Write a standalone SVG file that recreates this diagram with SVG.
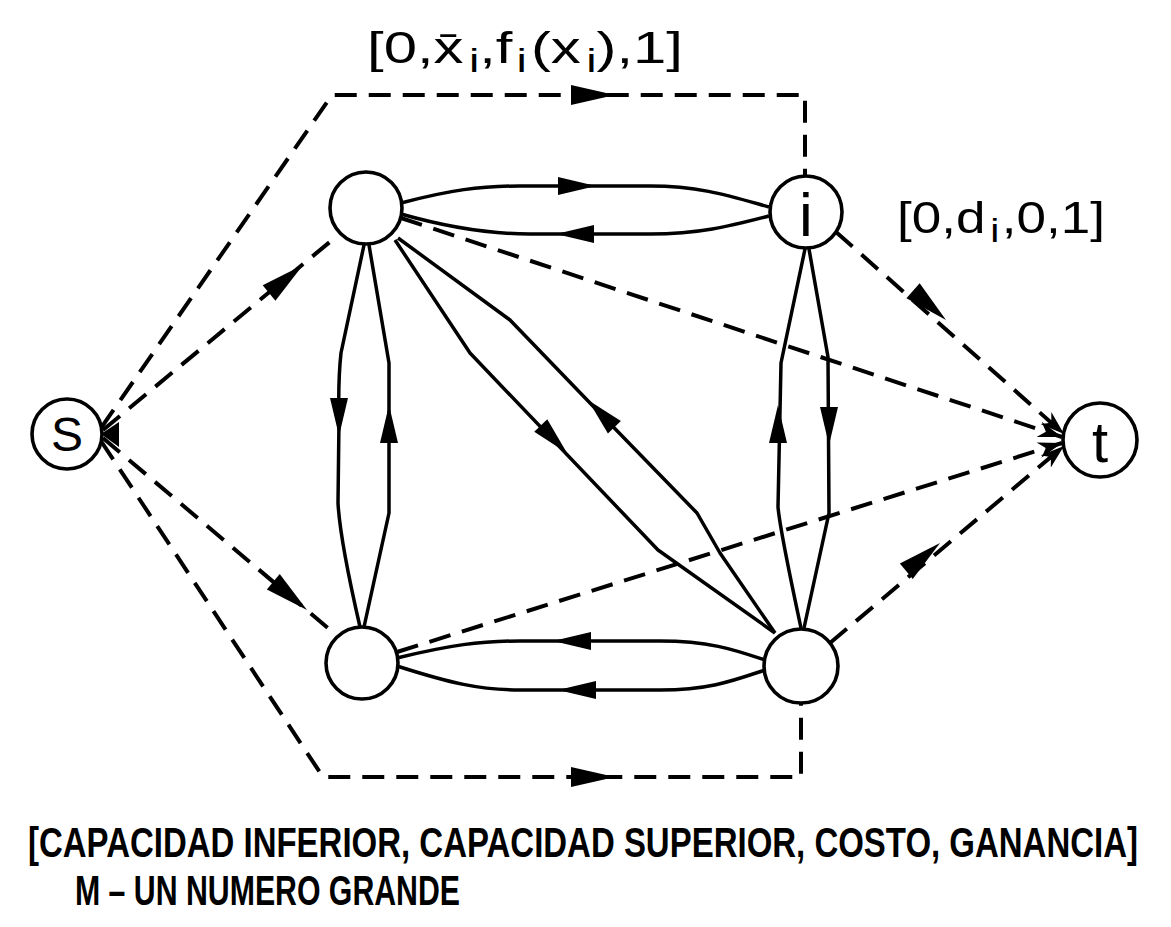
<svg xmlns="http://www.w3.org/2000/svg" xmlns:xlink="http://www.w3.org/1999/xlink" width="1171" height="927" viewBox="0 0 1171 927">
<style>
.node{fill:#fff;stroke:#000;stroke-width:3.6}
.solid{fill:none;stroke:#000;stroke-width:3.5;stroke-linejoin:round}
.dash{fill:none;stroke:#000;stroke-width:4;stroke-dasharray:22 12}
.lbl{font-family:"Liberation Sans",Arial,sans-serif;fill:#000}
.cap{font-family:"Liberation Sans",Arial,sans-serif;font-weight:bold;fill:#000}
</style>
<defs>
<path id="ah" d="M0,0 L-44,-10 L-44,10 Z" fill="#000"/>
<path id="ahs" d="M0,0 L-38,-9 L-38,9 Z" fill="#000"/>
<marker id="tend" markerWidth="26" markerHeight="16" refX="24" refY="8" orient="auto" markerUnits="userSpaceOnUse">
<path d="M0,0 L24,8 L0,16 L7,8 Z" fill="#000"/>
</marker>
</defs>
<rect width="1171" height="927" fill="#fff"/>
<g id="connectors">
<path class="dash" d="M103,430 L337,236"/>
<path class="dash" d="M103,438 L335,634"/>
<path class="dash" d="M101,428 L332,95 L805,95 L805,176"/>
<path class="dash" d="M101,441 L323,777 L801,777 L801,702"/>
<path class="dash" d="M401,218 L1062,437" marker-end="url(#tend)"/>
<path class="dash" d="M397,652 L1062,443" marker-end="url(#tend)"/>
<path class="dash" d="M836,232 L1064,434" marker-end="url(#tend)"/>
<path class="dash" d="M830,643 L1064,446" marker-end="url(#tend)"/>
<path class="solid" d="M401,203 C450,190 480,186 520,186 L650,186 C700,186 730,196 769,207"/>
<path class="solid" d="M401,214 C450,228 490,234 530,234 L650,234 C700,234 730,226 769,216"/>
<path class="solid" d="M397,658 C450,645 480,641 520,641 L660,641 C710,641 735,650 765,660"/>
<path class="solid" d="M397,666 C450,683 480,690 520,690 L660,690 C710,690 735,680 765,670"/>
<path class="solid" d="M364,245 L341,353 Q338,380 339,420 L338,503 Q340,540 360,627"/>
<path class="solid" d="M369,245 L389,363 L389,513 L364,627"/>
<path class="solid" d="M805,249 L781,363 L778,507 Q780,530 801,628"/>
<path class="solid" d="M809,249 L828,357 L829,513 L804,628"/>
<path class="solid" d="M395,240 L470,353 L658,550 L775,633"/>
<path class="solid" d="M398,238 L510,320 L590,403 L697,513 L720,553 L775,633"/>
<use xlink:href="#ah" transform="translate(303,265) rotate(-39.5)"/>
<use xlink:href="#ah" transform="translate(307,610) rotate(40)"/>
<use xlink:href="#ah" transform="translate(615,95)"/>
<use xlink:href="#ah" transform="translate(615,777)"/>
<use xlink:href="#ah" transform="translate(946,320) rotate(41.5)"/>
<use xlink:href="#ah" transform="translate(940,543) rotate(-40)"/>
<use xlink:href="#ahs" transform="translate(596,186)"/>
<use xlink:href="#ahs" transform="translate(556,234) rotate(180)"/>
<use xlink:href="#ahs" transform="translate(553,641) rotate(180)"/>
<use xlink:href="#ahs" transform="translate(558,690) rotate(180)"/>
<use xlink:href="#ahs" transform="translate(339,436) rotate(90)"/>
<use xlink:href="#ahs" transform="translate(389,405) rotate(-90)"/>
<use xlink:href="#ahs" transform="translate(567,453) rotate(46.3)"/>
<use xlink:href="#ahs" transform="translate(588,400) rotate(-134)"/>
<use xlink:href="#ahs" transform="translate(778,405) rotate(-90)"/>
<use xlink:href="#ahs" transform="translate(829,445) rotate(90)"/>
<path d="M101,434 L119,422 L119,447 Z" fill="#000"/>
</g>
<g id="node-s"><circle class="node" cx="67" cy="434" r="35"/><text class="lbl" x="67" y="451" font-size="48" text-anchor="middle">S</text></g>
<g id="node-t"><circle class="node" cx="1100" cy="440" r="37"/><text class="lbl" x="1100" y="462" font-size="58" text-anchor="middle">t</text></g>
<g id="node-a"><circle class="node" cx="366" cy="208" r="36"/></g>
<g id="node-i"><circle class="node" cx="806" cy="212" r="36"/><text class="lbl" x="806" y="236" font-size="62" text-anchor="middle">i</text></g>
<g id="node-b"><circle class="node" cx="362" cy="663" r="36"/></g>
<g id="node-c"><circle class="node" cx="801" cy="666" r="37"/></g>
<g id="labels">
<text class="lbl" x="367" y="63" font-size="44" textLength="316" lengthAdjust="spacingAndGlyphs">[0,x̄<tspan font-size="34" dx="4" dy="9">i</tspan><tspan dy="-9">,f</tspan><tspan font-size="34" dx="3" dy="9">i</tspan><tspan dx="3" dy="-9">(x</tspan><tspan font-size="34" dx="4" dy="9">i</tspan><tspan dy="-9">),1]</tspan></text>
<text class="lbl" x="897" y="233" font-size="44" textLength="208" lengthAdjust="spacingAndGlyphs">[0,d<tspan font-size="34" dx="4" dy="9">i</tspan><tspan dx="2" dy="-9">,0,1]</tspan></text>
<text class="cap" transform="translate(28,857) scale(1,1.4)" x="0" y="0" font-size="30" textLength="1110" lengthAdjust="spacingAndGlyphs">[CAPACIDAD INFERIOR, CAPACIDAD SUPERIOR, COSTO, GANANCIA]</text>
<text class="cap" x="75" y="905" font-size="42" textLength="385" lengthAdjust="spacingAndGlyphs">M – UN NUMERO GRANDE</text>
</g>
</svg>
